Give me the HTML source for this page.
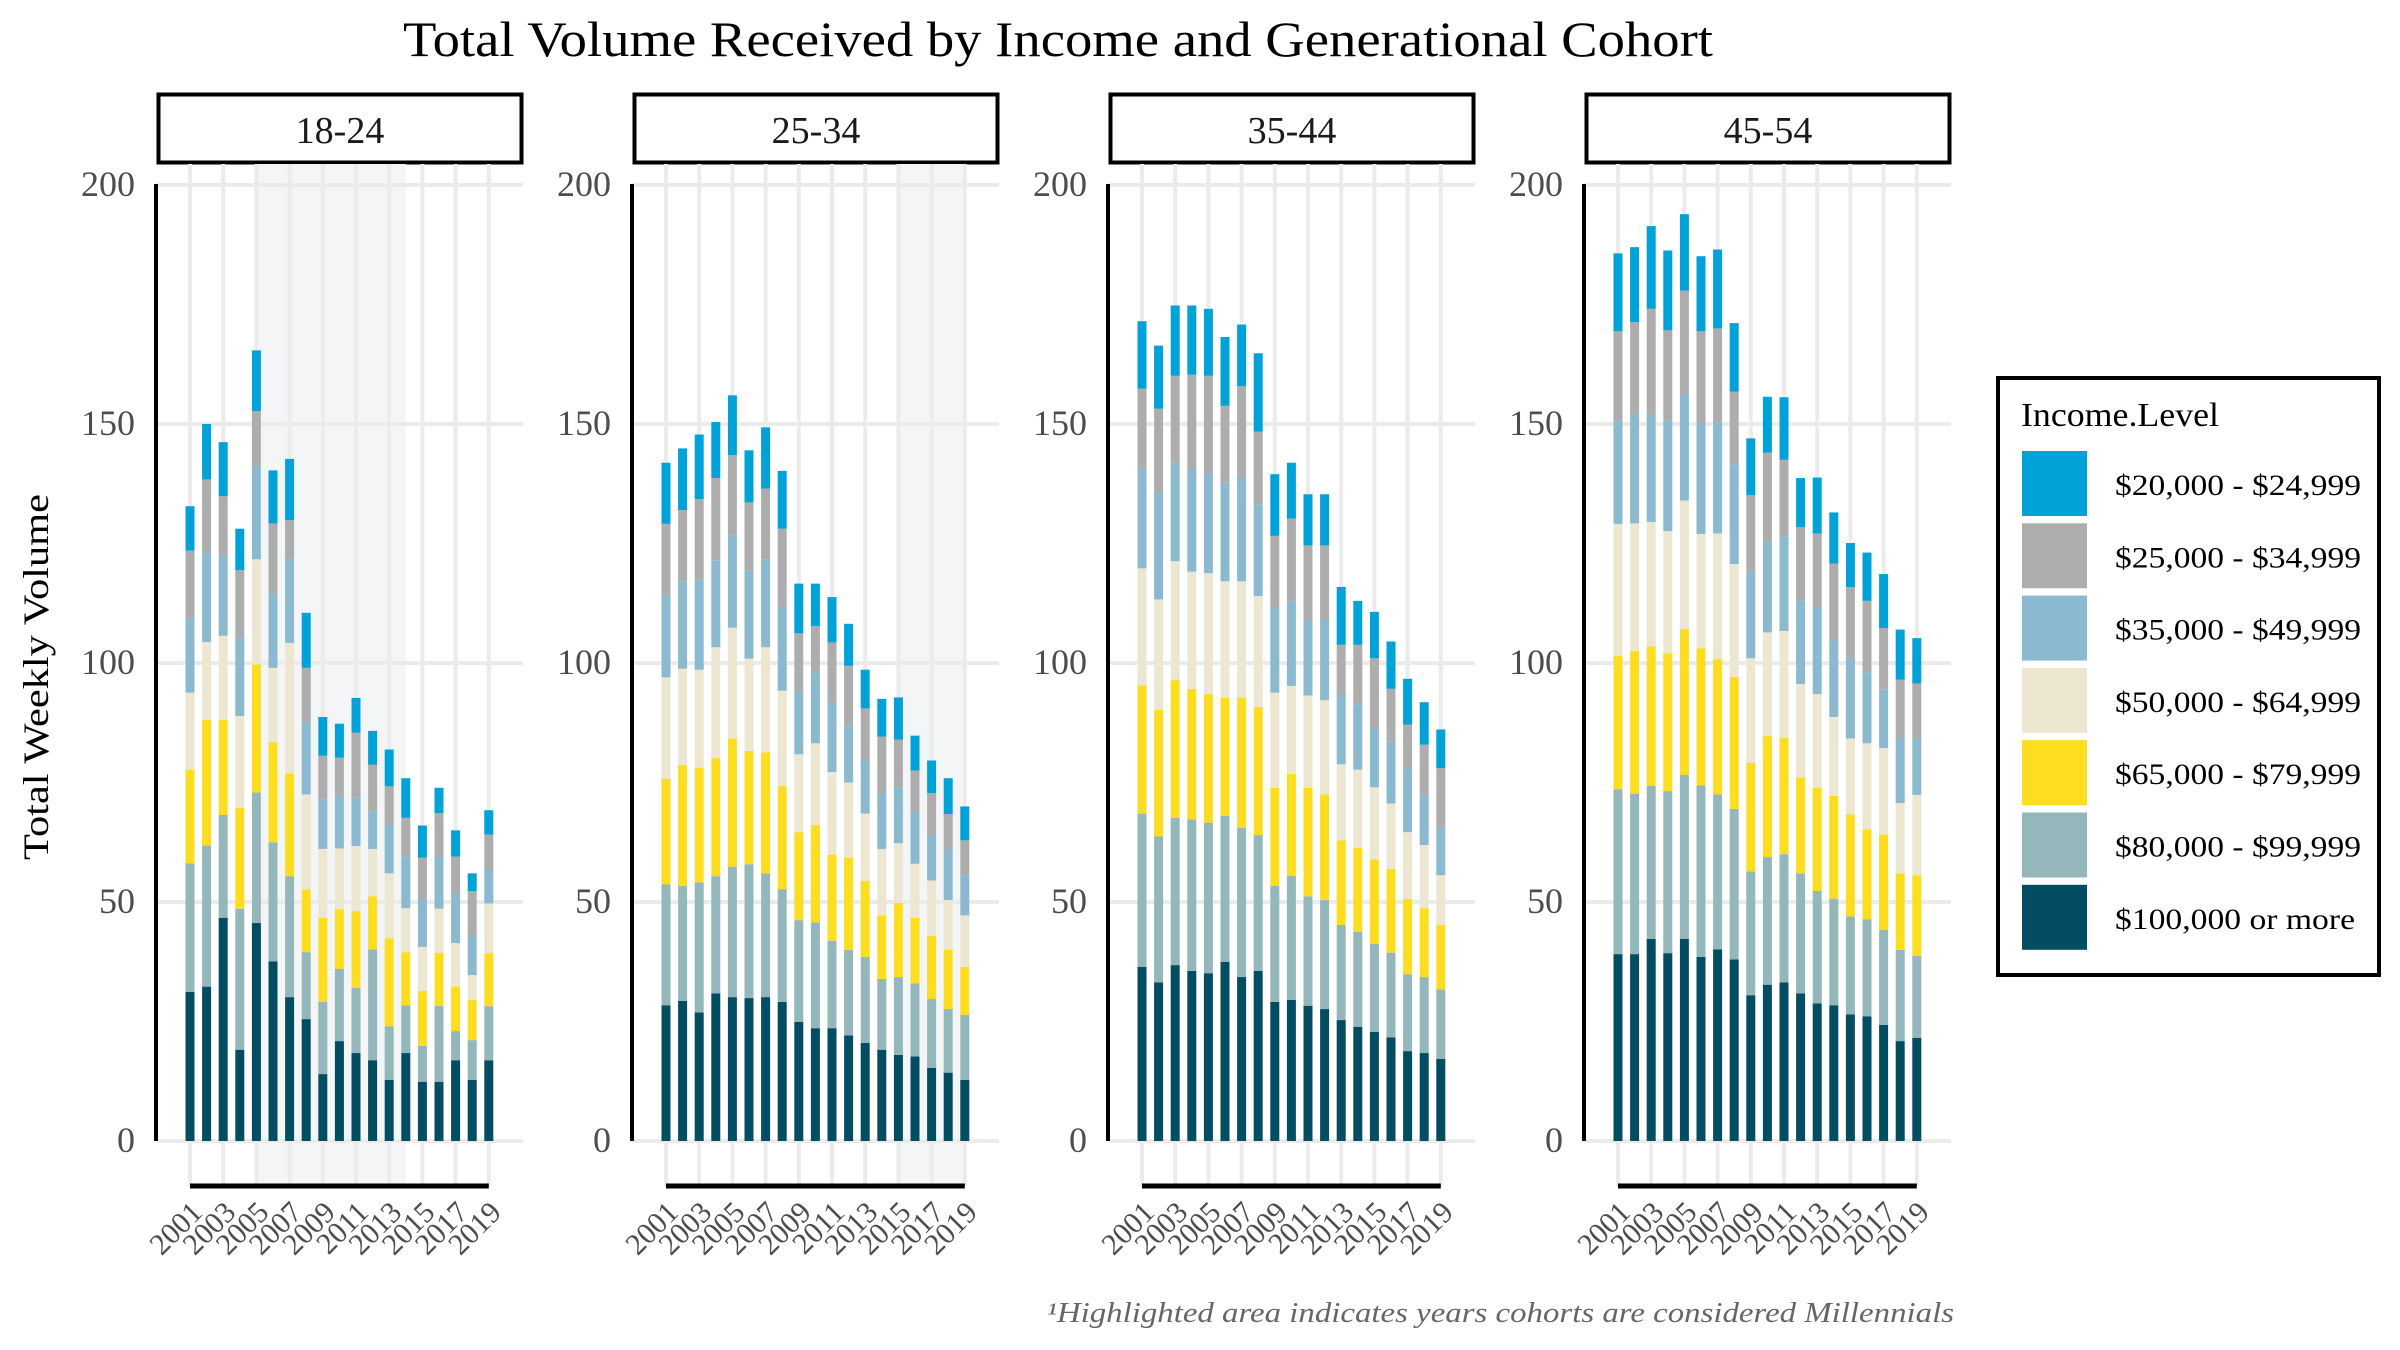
<!DOCTYPE html>
<html><head><meta charset="utf-8"><style>
html,body{margin:0;padding:0;background:#fff;}
svg{display:block;font-family:"Liberation Serif",serif;}
</style></head><body>
<svg id="chart" width="2400" height="1350" viewBox="0 0 2400 1350" xmlns="http://www.w3.org/2000/svg">
<rect x="0" y="0" width="2400" height="1350" fill="#fff"/>
<text x="1058" y="56" text-anchor="middle" font-size="50" fill="#000" textLength="1310" lengthAdjust="spacingAndGlyphs">Total Volume Received by Income and Generational Cohort</text>
<text transform="translate(48,677) rotate(-90)" text-anchor="middle" font-size="36" fill="#000" textLength="366" lengthAdjust="spacingAndGlyphs">Total Weekly Volume</text>
<g id="panels"></g>
<g>
<rect x="2007" y="378" width="381" height="597" fill="#fff" stroke="#000" stroke-width="4" transform="translate(-9,0)"/>
<text x="2021" y="426" font-size="34" fill="#000" textLength="198" lengthAdjust="spacingAndGlyphs">Income.Level</text>
<g id="legend-items"></g>
</g>
<text x="1954" y="1322" text-anchor="end" font-size="28" font-style="italic" fill="#666" textLength="907" lengthAdjust="spacingAndGlyphs">¹Highlighted area indicates years cohorts are considered Millennials</text>
</svg>
<script>
const years = [2001,2002,2003,2004,2005,2006,2007,2008,2009,2010,2011,2012,2013,2014,2015,2016,2017,2018,2019];
const cohorts = ["18-24","25-34","35-44","45-54"];
const incomeLevels = ["$100,000 or more","$80,000 - $99,999","$65,000 - $79,999","$50,000 - $64,999","$35,000 - $49,999","$25,000 - $34,999","$20,000 - $24,999"];
const yTicks = [0,50,100,150,200];
const xTickYears = [2001,2003,2005,2007,2009,2011,2013,2015,2017,2019];
const highlightStart = [2005,2015,null,null];
const highlightEnd = [2014,2019,null,null];

// 18-24
const a1824_inc100 = [31.2,32.3,46.7,19.1,45.6,37.6,30.1,25.5,14,20.9,18.4,16.9,12.8,18.4,12.4,12.4,16.9,12.8,16.9];
const a1824_inc80 = [26.9,29.5,21.5,29.5,27.3,24.9,25.3,14,15.1,15.1,13.6,23.2,11.2,10,7.5,15.9,6.1,8.3,11.3];
const a1824_inc65 = [19.6,26.3,19.9,21.1,26.8,20.9,21.5,13.1,17.6,12.5,16.1,11.1,18.4,11.1,11.5,11.1,9.3,8.4,11.1];
const a1824_inc50 = [16.1,16.3,17.6,19.2,22,15.6,27.3,19.9,14.4,12.7,13.6,9.9,13.6,9.2,9.2,9.2,9.1,5.2,10.4];
const a1824_inc35 = [15.6,18.8,16.7,16.4,19.5,15.5,17.7,15.2,10.3,10.9,10.1,7.9,10.1,10.9,9.9,10.8,10.4,8.3,7.2];
const a1824_inc25 = [14.1,15.2,12.5,14.1,11.5,14.7,8,11.3,9.2,8.1,13.6,9.7,8.1,8,8.8,9.2,7.7,9.3,7.2];
const a1824_inc20 = [9.3,11.6,11.3,8.7,12.7,11.1,12.8,11.5,8.1,7.1,7.3,7.1,7.7,8.3,6.7,5.3,5.5,3.7,5.1];
// 25-34
const a2534_inc100 = [28.4,29.3,26.9,30.9,30.1,29.9,30.1,29.1,24.9,23.6,23.6,22.1,20.5,19.1,18,17.7,15.3,14.3,12.8];
const a2534_inc80 = [25.3,24.1,27.2,24.5,27.3,28,25.9,23.6,21.3,22.1,18.3,17.9,18,14.8,16.3,15.3,14.4,13.3,13.6];
const a2534_inc65 = [22.1,25.3,24,24.7,26.8,23.7,25.3,21.6,18.4,20.4,18,19.3,15.9,13.3,15.5,13.7,13.2,12.4,10];
const a2534_inc50 = [21.2,20.1,20.5,23.2,23.2,19.3,22,19.9,16.3,17.1,17.3,15.7,14.1,13.9,12.5,11.3,11.6,10.4,10.8];
const a2534_inc35 = [17.2,18.3,18.8,18.1,19.3,18.4,18.4,17.5,13.2,14.8,14.7,12,11.1,11.6,11.7,10.8,9.6,10.7,8.4];
const a2534_inc25 = [14.9,14.9,16.9,17.3,16.8,14.3,14.8,16.4,12.1,9.7,12.4,12.4,10.9,11.9,10,8.7,8.7,7.3,7.3];
const a2534_inc20 = [12.8,12.9,13.5,11.7,12.5,10.9,12.8,12.1,10.4,8.9,9.5,8.8,8.1,7.9,8.8,7.3,6.8,7.5,7.1];
// 35-44
const a3544_inc100 = [36.4,33.2,36.8,35.6,35.1,37.5,34.3,35.6,29.1,29.5,28.3,27.6,25.3,23.9,22.8,21.7,18.8,18.4,17.2];
const a3544_inc80 = [32.1,30.5,30.8,31.7,31.5,30.5,31.2,28.4,24.3,26,22.9,22.8,19.9,19.9,18.4,17.7,16.1,15.9,14.5];
const a3544_inc65 = [26.8,26.5,28.8,27.3,26.9,24.7,27.3,26.8,20.5,21.3,22.7,22.1,17.7,17.5,17.7,17.5,15.7,14.4,13.5];
const a3544_inc50 = [24.5,23.1,24.9,24.5,25.3,24.4,24.3,23.2,19.9,18.4,19.3,19.7,15.9,16.4,15.1,13.7,14,13.2,10.4];
const a3544_inc35 = [20.8,22.4,20.7,21.5,20.9,20.7,21.7,19.2,17.9,17.7,15.7,16.9,14.7,13.7,12.3,12.9,13.2,10.3,9.9];
const a3544_inc25 = [16.8,17.5,18.1,19.7,20.4,16,19.1,15.2,14.9,17.3,15.7,15.5,10.3,12.4,14.7,11.1,9.3,10.7,12.5];
const a3544_inc20 = [14.1,13.2,14.7,14.5,14,14.4,12.9,16.4,12.9,11.7,10.7,10.7,12.1,9.2,9.7,9.9,9.6,8.9,8.1];
// 45-54
const a4554_inc100 = [39.1,39.1,42.3,39.3,42.3,38.5,40.1,38,30.5,32.7,33.2,30.9,28.8,28.4,26.5,26.1,24.3,20.9,21.6];
const a4554_inc80 = [34.5,33.5,32,33.9,34.3,35.9,32.4,31.5,25.9,26.7,26.8,25.1,23.5,22.3,20.5,20.3,19.9,19.1,17.1];
const a4554_inc65 = [27.9,29.9,29.2,28.8,30.5,28.7,28.3,27.6,22.7,25.3,24.3,20.1,21.6,21.5,21.3,18.8,19.9,16,16.9];
const a4554_inc50 = [27.6,26.7,26,25.6,26.9,23.9,26.3,23.6,21.9,21.7,22.4,19.5,19.6,16.5,15.9,18,18.1,14.7,16.8];
const a4554_inc35 = [21.6,22.9,22.5,23.1,22.3,23.1,23.3,20.8,18,19.1,19.7,17.5,18,16,16.9,14.9,12.3,13.7,11.7];
const a4554_inc25 = [18.7,19.2,22.1,18.9,21.6,19.3,19.6,15.3,16.1,18.5,16.1,15.3,15.6,16.1,14.8,14.9,12.8,12.1,11.6];
const a4554_inc20 = [16.3,15.7,17.3,16.7,16,15.7,16.5,14.3,11.9,11.7,13.1,10.3,11.7,10.7,9.2,10.1,11.3,10.5,9.5];

const panelSeries = [
  [a1824_inc100,a1824_inc80,a1824_inc65,a1824_inc50,a1824_inc35,a1824_inc25,a1824_inc20],
  [a2534_inc100,a2534_inc80,a2534_inc65,a2534_inc50,a2534_inc35,a2534_inc25,a2534_inc20],
  [a3544_inc100,a3544_inc80,a3544_inc65,a3544_inc50,a3544_inc35,a3544_inc25,a3544_inc20],
  [a4554_inc100,a4554_inc80,a4554_inc65,a4554_inc50,a4554_inc35,a4554_inc25,a4554_inc20]
];
const colors = ["#034d63","#93b7bb","#fddd20","#ede7d2","#8bbad0","#adadad","#00a2d8"];

const NS = "http://www.w3.org/2000/svg";
function mk(tag, attrs, parent){
  const e = document.createElementNS(NS, tag);
  for (const k in attrs) e.setAttribute(k, attrs[k]);
  parent.appendChild(e);
  return e;
}
const panelsG = document.getElementById("panels");
const y0 = 1141, y200 = 185;
function yScale(v){ return y0 - v*(y0-y200)/200; }
const panelW = 366, panelGap = 476, firstLeft = 157, step = 16.6, barW = 9;

cohorts.forEach((c, p) => {
  const left = firstLeft + p*panelGap;
  const xScale = yr => left + 33 + (yr - years[0])*step;
  const g = mk("g", {}, panelsG);
  
  
  const strip = mk("rect", {x:left+1.5, y:94.5, width:panelW-3, height:68, fill:"#fff", stroke:"#000", "stroke-width":4}, g);
  
  
  const st = mk("text", {x:left+panelW/2, y:143, "text-anchor":"middle", "font-size":38, fill:"#1a1a1a"}, g);
  st.textContent = c;
  
  
  if (highlightStart[p] !== null) {
    const hx = xScale(highlightStart[p]);
    const hr = mk("rect", {x:hx, y:164, width:xScale(highlightEnd[p])-hx, height:1022, fill:"#f4f5f7"}, g);
    
    
  }
  yTicks.forEach(t => {
    const gl = mk("line", {x1:left, x2:left+panelW, y1:yScale(t), y2:yScale(t), stroke:"#ebebeb", "stroke-width":4}, g);
    
    
    const tl = mk("text", {x:left-22, y:yScale(t)+11, "text-anchor":"end", "font-size":36, fill:"#4d4d4d"}, g);
    tl.textContent = t;
    
    
  });
  xTickYears.forEach(yr => {
    const gl = mk("line", {x1:xScale(yr), x2:xScale(yr), y1:164, y2:1186, stroke:"#ebebeb", "stroke-width":4}, g);
    
    
    const xt = mk("text", {transform:"translate(" + (xScale(yr)+14) + ",1214) rotate(-45)", "text-anchor":"end", "font-size":30, fill:"#4d4d4d"}, g);
    xt.textContent = yr;
    
    
  });
  years.forEach((yr, i) => {
    let cum = 0;
    panelSeries[p].forEach((series, s) => {
      const v = series[i];
      const yTop = yScale(cum + v), yBot = yScale(cum);
      const r = mk("rect", {x:xScale(yr)-barW/2, y:yTop, width:barW, height:yBot-yTop, fill:colors[s]}, g);
      
      
      cum += v;
    });
  });
  const ax = mk("line", {x1:left-1, x2:left-1, y1:y200-1, y2:y0, stroke:"#000", "stroke-width":4}, g);
  
  
  const bx = mk("line", {x1:xScale(years[0]), x2:xScale(years[years.length-1]), y1:1186, y2:1186, stroke:"#000", "stroke-width":5}, g);
  
  
});

const legendG = document.getElementById("legend-items");
for (let k = 0; k < incomeLevels.length; k++) {
  const s = incomeLevels.length - 1 - k;
  const ty = 451 + k*72.3;
  const sw = mk("rect", {x:2022, y:ty, width:65, height:65, fill:colors[s]}, legendG);
  
  
  const lt = mk("text", {x:2115, y:ty+44, "font-size":30, fill:"#000", textLength: (s === 0 ? 240 : 246), lengthAdjust:"spacingAndGlyphs"}, legendG);
  lt.textContent = incomeLevels[s];
  
  
}
</script>
</body></html>
